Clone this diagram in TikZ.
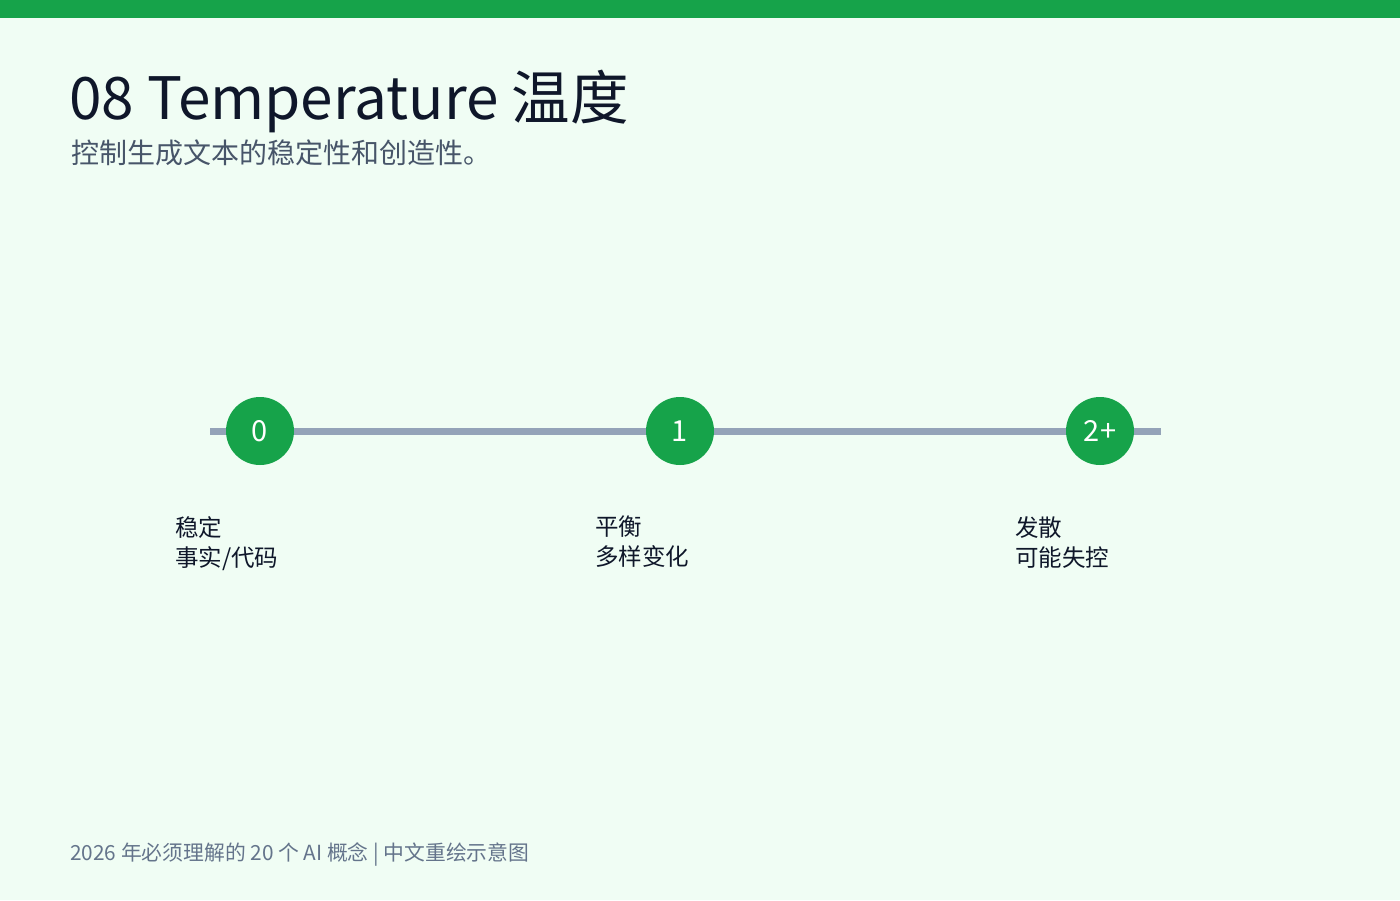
\documentclass[tikz,border=0pt]{standalone}
\usepackage{fontspec}
\setmainfont{Noto Sans CJK SC}
\definecolor{bg}{HTML}{F0FDF4}
\definecolor{gr}{HTML}{16A34A}
\definecolor{ln}{HTML}{94A3B8}
\definecolor{dk}{HTML}{0F172A}
\definecolor{sub}{HTML}{475569}
\definecolor{ft}{HTML}{64748B}
\begin{document}
\begin{tikzpicture}[x=1pt,y=-1pt,
  dot/.style={circle,fill=gr,minimum size=68pt,inner sep=0pt,text=white,font=\fontsize{29}{29}\selectfont},
  lab/.style={anchor=north west,align=left,text=dk,font=\fontsize{23.5}{30}\selectfont,inner sep=0pt}]
\fill[bg] (0,0) rectangle (1400,900);
\useasboundingbox (0,0) rectangle (1400,900);
\fill[gr] (0,0) rectangle (1400,18);
\node[anchor=west,inner sep=0pt,text=dk,font=\fontsize{58.5}{58}\selectfont] (t) at (69,101) {08 Temperature 温度};
\node[anchor=west,inner sep=0pt,text=sub,font=\fontsize{28}{28}\selectfont] (s) at (71,153) {控制生成文本的稳定性和创造性。};
\coordinate (l0) at (210,431);
\coordinate (l1) at (1161,431);
\draw[ln,line width=7pt] (l0) -- (l1);
\node[dot] (a) at (260,431) {0};
\node[dot] (b) at (680,431) {1};
\node[dot] (c) at (1100,431) {2+};
\node[lab] (la) at (175,516) {稳定\\事实/代码};
\node[lab] (lb) at (595,516) {平衡\\多样变化};
\node[lab] (lc) at (1015,516) {发散\\可能失控};
\node[anchor=west,inner sep=0pt,text=ft,font=\fontsize{20.8}{20}\selectfont] (f) at (70,854) {2026 年必须理解的 20 个 AI 概念 | 中文重绘示意图};
\end{tikzpicture}
\end{document}
